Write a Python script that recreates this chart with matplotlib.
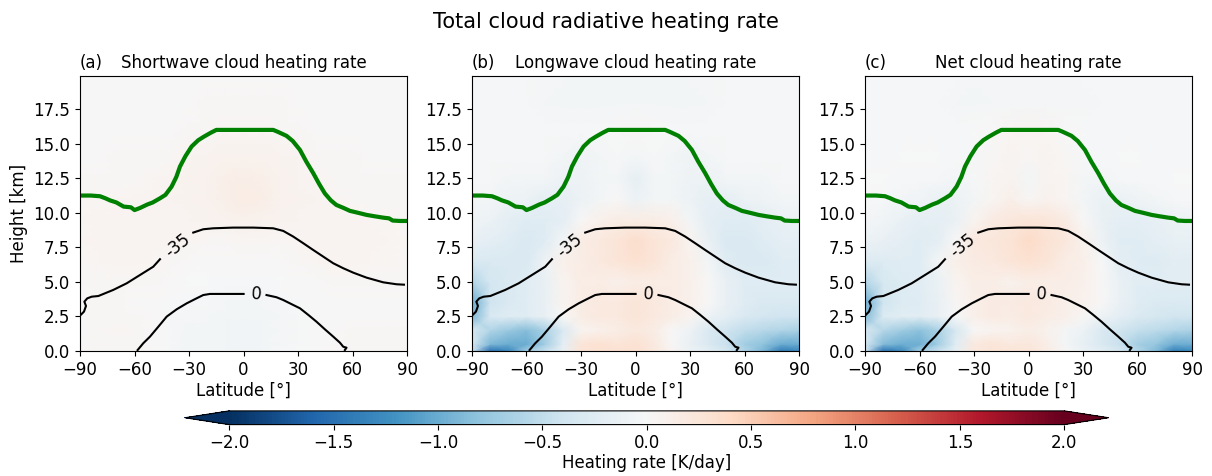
import numpy as np
import matplotlib.pyplot as plt

# grid nodes of the zonal-mean fields
lats = [-90, -80, -70, -60, -50, -40, -30, -20, -10, 0, 10, 20, 30, 40, 50, 60, 70, 80, 90]
heights = [0, 0.5, 1.5, 2.5, 3.5, 5, 6.5, 8, 9.5, 11, 12.5, 14, 16, 18, 20]

# shortwave cloud heating rate [K/day], rows = heights, columns = lats
sw_rate = [
    [0.00, 0.03, 0.03, 0.02, 0.00, -0.03, -0.05, -0.05, -0.05, -0.05, -0.05, -0.03, -0.02, 0.00, 0.02, 0.03, 0.03, 0.03, 0.03],
    [0.00, 0.03, 0.03, 0.02, 0.00, -0.03, -0.05, -0.05, -0.06, -0.07, -0.06, -0.04, -0.02, 0.00, 0.01, 0.02, 0.02, 0.02, 0.02],
    [0.00, 0.03, 0.04, 0.03, 0.00, -0.03, -0.05, -0.05, -0.06, -0.07, -0.06, -0.04, -0.02, 0.00, 0.01, 0.02, 0.02, 0.02, 0.02],
    [0.01, 0.02, 0.02, 0.02, 0.00, -0.02, -0.04, -0.04, -0.05, -0.06, -0.05, -0.04, -0.02, 0.00, 0.01, 0.01, 0.01, 0.01, 0.01],
    [0.01, 0.02, 0.02, 0.01, 0.00, -0.02, -0.03, -0.03, -0.04, -0.05, -0.04, -0.03, -0.02, 0.00, 0.01, 0.01, 0.01, 0.01, 0.01],
    [0.02, 0.03, 0.03, 0.03, 0.02, 0.00, -0.01, -0.01, -0.02, -0.02, -0.02, -0.01, 0.00, 0.01, 0.02, 0.03, 0.03, 0.03, 0.03],
    [0.03, 0.04, 0.05, 0.05, 0.04, 0.02, 0.01, 0.00, 0.00, 0.00, 0.00, 0.00, 0.02, 0.04, 0.05, 0.05, 0.04, 0.04, 0.03],
    [0.04, 0.05, 0.06, 0.06, 0.06, 0.05, 0.04, 0.03, 0.03, 0.04, 0.04, 0.03, 0.04, 0.05, 0.06, 0.06, 0.05, 0.04, 0.04],
    [0.04, 0.05, 0.06, 0.06, 0.06, 0.06, 0.06, 0.07, 0.08, 0.10, 0.09, 0.07, 0.06, 0.06, 0.05, 0.05, 0.04, 0.04, 0.03],
    [0.03, 0.04, 0.04, 0.05, 0.05, 0.06, 0.07, 0.09, 0.12, 0.15, 0.13, 0.09, 0.07, 0.05, 0.04, 0.03, 0.03, 0.03, 0.03],
    [0.02, 0.02, 0.02, 0.03, 0.04, 0.05, 0.07, 0.09, 0.11, 0.13, 0.11, 0.09, 0.06, 0.04, 0.03, 0.02, 0.02, 0.02, 0.02],
    [0.01, 0.01, 0.02, 0.02, 0.02, 0.03, 0.05, 0.07, 0.08, 0.09, 0.08, 0.07, 0.05, 0.03, 0.02, 0.02, 0.01, 0.01, 0.01],
    [0.01, 0.01, 0.01, 0.01, 0.01, 0.01, 0.02, 0.03, 0.04, 0.04, 0.04, 0.03, 0.02, 0.01, 0.01, 0.01, 0.01, 0.01, 0.01],
    [0.00, 0.00, 0.01, 0.01, 0.01, 0.01, 0.01, 0.02, 0.02, 0.02, 0.02, 0.02, 0.01, 0.01, 0.01, 0.01, 0.01, 0.00, 0.00],
    [0.00, 0.00, 0.00, 0.00, 0.01, 0.01, 0.01, 0.01, 0.01, 0.01, 0.01, 0.01, 0.01, 0.01, 0.01, 0.00, 0.00, 0.00, 0.00],
]

# longwave cloud heating rate [K/day]
lw_rate = [
    [-0.40, -1.50, -1.30, -0.70, -0.45, -0.15, 0.25, 0.30, 0.30, 0.30, 0.20, 0.05, -0.10, -0.20, -0.35, -0.60, -0.90, -1.40, -1.30],
    [-0.30, -0.90, -1.00, -1.00, -0.70, -0.20, 0.25, 0.30, 0.25, 0.30, 0.20, 0.00, -0.15, -0.30, -0.45, -0.70, -0.80, -1.00, -1.00],
    [-0.30, -0.60, -0.75, -0.85, -0.65, -0.30, 0.05, 0.10, 0.15, 0.20, 0.15, 0.00, -0.10, -0.30, -0.40, -0.50, -0.55, -0.60, -0.65],
    [-0.90, -0.30, -0.25, -0.25, -0.15, 0.00, 0.15, 0.20, 0.20, 0.25, 0.20, 0.15, 0.05, -0.10, -0.20, -0.30, -0.35, -0.40, -0.40],
    [-1.00, -0.40, -0.30, -0.25, -0.15, 0.05, 0.15, 0.20, 0.20, 0.25, 0.20, 0.15, 0.10, 0.00, -0.15, -0.25, -0.30, -0.30, -0.30],
    [-0.60, -0.35, -0.30, -0.25, -0.15, 0.05, 0.15, 0.15, 0.10, 0.15, 0.15, 0.15, 0.10, 0.00, -0.15, -0.25, -0.25, -0.25, -0.25],
    [-0.30, -0.30, -0.30, -0.30, -0.10, 0.10, 0.15, 0.20, 0.25, 0.30, 0.25, 0.15, 0.10, -0.05, -0.25, -0.30, -0.30, -0.25, -0.25],
    [-0.15, -0.20, -0.25, -0.30, -0.25, -0.05, 0.15, 0.20, 0.25, 0.35, 0.25, 0.20, 0.05, -0.15, -0.30, -0.30, -0.25, -0.20, -0.20],
    [-0.08, -0.12, -0.20, -0.25, -0.25, -0.20, 0.00, 0.10, 0.15, 0.15, 0.15, 0.10, -0.05, -0.20, -0.25, -0.25, -0.20, -0.15, -0.12],
    [-0.04, -0.06, -0.10, -0.12, -0.18, -0.18, -0.12, -0.05, 0.00, -0.12, -0.05, -0.05, -0.12, -0.18, -0.18, -0.12, -0.08, -0.06, -0.05],
    [-0.03, -0.03, -0.05, -0.05, -0.06, -0.10, -0.10, -0.05, -0.05, -0.18, -0.05, -0.05, -0.10, -0.10, -0.06, -0.05, -0.05, -0.03, -0.03],
    [-0.03, -0.03, -0.03, -0.03, -0.03, -0.05, -0.08, -0.05, -0.03, -0.06, -0.03, -0.05, -0.08, -0.05, -0.03, -0.03, -0.03, -0.03, -0.03],
    [-0.03, -0.03, -0.03, -0.03, -0.03, -0.03, -0.03, -0.02, 0.00, 0.02, 0.00, -0.02, -0.03, -0.03, -0.03, -0.03, -0.03, -0.03, -0.03],
    [-0.03, -0.03, -0.03, -0.03, -0.04, -0.05, -0.06, -0.06, -0.06, -0.06, -0.06, -0.06, -0.05, -0.04, -0.03, -0.03, -0.03, -0.03, -0.03],
    [-0.03, -0.03, -0.03, -0.03, -0.04, -0.04, -0.05, -0.05, -0.05, -0.05, -0.05, -0.05, -0.04, -0.04, -0.03, -0.03, -0.03, -0.03, -0.03],
]

# tropopause height [km]
tropo_lat = [-90, -84, -79, -76, -73.5, -70, -66, -62, -60, -57, -53, -50, -46, -43, -39.6, -37, -35, -32, -28.6, -25, -22, -18, -15,
             16.3, 19, 23.6, 27, 31, 34.5, 38.3, 41.5, 44.7, 48, 51, 55, 58.5, 63, 67.6, 72, 76.8, 80, 82, 86, 90]
tropo_h = [11.25, 11.25, 11.2, 11.05, 10.9, 10.75, 10.45, 10.4, 10.2, 10.35, 10.6, 10.75, 11.05, 11.3, 11.9, 12.6, 13.35, 14.1, 14.8,
           15.25, 15.5, 15.8, 16.0, 16.0, 15.85, 15.57, 15.2, 14.55, 13.7, 12.87, 12.1, 11.4, 10.9, 10.57, 10.35, 10.14, 10.0,
           9.85, 9.75, 9.65, 9.6, 9.44, 9.41, 9.41]

# -35 degC isotherm
t35_lat = [-90, -87.8, -86.7, -87.6, -86, -83.6, -79.9, -71.7, -64.3, -57, -49.7, -46, -40, -35, -30, -27.7, -22.2, -16.7, -5.7,
           5.3, 16.3, 21.8, 27.3, 32.8, 38.3, 43.8, 49.3, 54.8, 60.3, 67.6, 76.8, 84.1, 88.2]
t35_h = [2.56, 2.85, 3.26, 3.57, 3.81, 3.93, 3.98, 4.42, 4.9, 5.5, 6.1, 6.64, 7.25, 7.8, 8.3, 8.57, 8.81, 8.88, 8.93,
         8.93, 8.88, 8.69, 8.28, 7.8, 7.31, 6.83, 6.35, 5.99, 5.67, 5.31, 4.97, 4.83, 4.8]

# 0 degC isotherm
t0_lat = [-58.3, -55.2, -51.5, -46.9, -42.3, -36.8, -31.3, -25.9, -22.2, -18.5, -14.9, -8, 0, 7, 12.6, 18.1, 21.8, 27.3, 31,
          35.6, 40.1, 44.7, 49.3, 53, 54.8, 56.6, 55.7]
t0_h = [0.07, 0.56, 1.04, 1.76, 2.49, 3.02, 3.45, 3.81, 4.05, 4.13, 4.13, 4.13, 4.13, 4.13, 4.05, 3.89, 3.69, 3.33, 3.09,
        2.61, 2.12, 1.57, 1.04, 0.6, 0.31, 0.24, 0.07]

sw = np.array(sw_rate)
lw = np.array(lw_rate)
net = sw + lw

titles = ['Shortwave cloud heating rate', 'Longwave cloud heating rate', 'Net cloud heating rate']
letters = ['(a)', '(b)', '(c)']
fields = [sw, lw, net]

plt.rcParams['font.family'] = ['DejaVu Sans']
plt.rcParams['font.size'] = 12

fig = plt.figure(figsize=(12.12, 4.76), dpi=100)
fig.suptitle('Total cloud radiative heating rate', fontsize=15, y=0.975)

lefts = [0.066, 0.3894, 0.7137]
X, Y = np.meshgrid(lats, heights)


def labelled_line(ax, x, y, text, gap, at):
    x = np.array(x, dtype=float)
    y = np.array(y, dtype=float)
    inside = (x > gap[0]) & (x < gap[1])
    # break the line where the label sits
    idx = np.arange(len(x))
    first = idx[idx < np.argmax(inside)]
    last = idx[idx > len(x) - 1 - np.argmax(inside[::-1])]
    ax.plot(x[first], y[first], color='k', lw=1.5)
    ax.plot(x[last], y[last], color='k', lw=1.5)
    p0 = ax.transData.transform((x[first][-1], y[first][-1]))
    p1 = ax.transData.transform((x[last][0], y[last][0]))
    ang = np.degrees(np.arctan2(p1[1] - p0[1], p1[0] - p0[0]))
    ax.text(at[0], at[1], text, rotation=ang, rotation_mode='anchor',
            ha='center', va='center', fontsize=12)


for i in range(3):
    ax = fig.add_axes([lefts[i], 0.2626, 0.27, 0.5777])
    ax.set_xlim(-90, 90)
    ax.set_ylim(0, 19.9)
    mesh = ax.pcolormesh(X, Y, fields[i], cmap='RdBu_r', vmin=-2, vmax=2, shading='gouraud')
    ax.plot(tropo_lat, tropo_h, color='green', lw=3)
    labelled_line(ax, t35_lat, t35_h, '-35', (-45, -28.5), (-36.5, 7.65))
    labelled_line(ax, t0_lat, t0_h, '0', (2, 12), (7.2, 4.1))
    ax.set_xticks([-90, -60, -30, 0, 30, 60, 90])
    ax.set_yticks([0, 2.5, 5, 7.5, 10, 12.5, 15, 17.5])
    ax.set_xlabel('Latitude [°]', labelpad=2)
    if i == 0:
        ax.set_ylabel('Height [km]')
    ax.set_title(titles[i], fontsize=12)
    ax.set_title(letters[i], loc='left', fontsize=12)

cax = fig.add_axes([0.1526, 0.108, 0.762, 0.0288])
cb = fig.colorbar(mesh, cax=cax, orientation='horizontal', extend='both', extendfrac=0.053)
cb.set_ticks([-2, -1.5, -1, -0.5, 0, 0.5, 1, 1.5, 2])
cb.set_label('Heating rate [K/day]', labelpad=1)

fig.savefig('out.png', dpi=100)
